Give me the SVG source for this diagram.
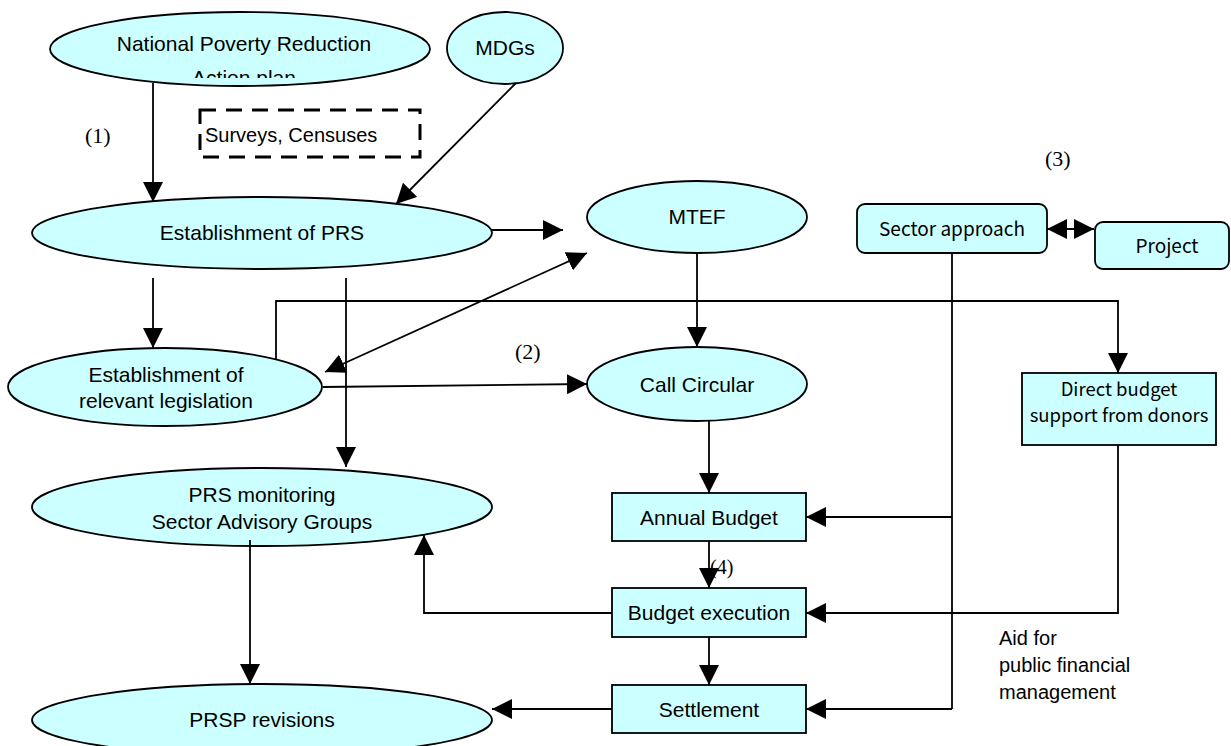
<svg xmlns="http://www.w3.org/2000/svg" width="1231" height="746" viewBox="0 0 1231 746">
  <style>
    .node { fill: #CCFFFF; stroke: #000; stroke-width: 1.8; }
    .lbl { font-family: "Liberation Sans", Arial, sans-serif; font-size: 21px; fill: #000; text-anchor: middle; }
    .jlbl { font-family: "Noto Sans CJK JP", "Noto Sans", sans-serif; font-size: 19px; fill: #000; text-anchor: middle; }
    .num { font-family: "Liberation Serif", "Times New Roman", serif; font-size: 22px; fill: #000; }
    .note { font-family: "Liberation Sans", Arial, sans-serif; font-size: 20px; fill: #000; }
    .wire { fill: none; stroke: #000; stroke-width: 1.8; }
  </style>
  <defs>
    <marker id="arrow" markerUnits="userSpaceOnUse" markerWidth="20" markerHeight="20" refX="20" refY="10" orient="auto-start-reverse">
      <path d="M0,0 L20,10 L0,20 Z" fill="#000"/>
    </marker>
    <clipPath id="clipAction">
      <rect x="0" y="0" width="600" height="78"/>
    </clipPath>
  </defs>

  <rect width="1231" height="746" fill="#fff"/>

  <!-- nodes -->
  <g id="npr">
    <ellipse class="node" cx="240" cy="49" rx="190" ry="37"/>
    <text class="lbl" x="244" y="51">National Poverty Reduction</text>
    <text class="lbl" x="244" y="85" clip-path="url(#clipAction)">Action plan</text>
  </g>
  <g id="mdgs">
    <ellipse class="node" cx="505" cy="48" rx="58" ry="36"/>
    <text class="lbl" x="505" y="55">MDGs</text>
  </g>
  <g id="surveys">
    <rect x="200" y="110" width="220" height="47" fill="none" stroke="#000" stroke-width="3" stroke-dasharray="16 10"/>
    <text class="note" x="205" y="142">Surveys, Censuses</text>
  </g>
  <g id="prs">
    <ellipse class="node" cx="262" cy="233" rx="230" ry="36"/>
    <text class="lbl" x="262" y="240">Establishment of PRS</text>
  </g>
  <g id="mtef">
    <ellipse class="node" cx="697" cy="217" rx="110" ry="36"/>
    <text class="lbl" x="697" y="224">MTEF</text>
  </g>
  <g id="sector">
    <rect class="node" x="857" y="204" width="190" height="49" rx="8"/>
    <text class="jlbl" x="952" y="236">Sector approach</text>
  </g>
  <g id="project">
    <rect class="node" x="1095" y="222" width="134" height="47" rx="8"/>
    <text class="jlbl" x="1167" y="253">Project</text>
  </g>
  <g id="legislation">
    <ellipse class="node" cx="165" cy="387" rx="157" ry="39"/>
    <text class="lbl" x="166" y="382">Establishment of</text>
    <text class="lbl" x="166" y="408">relevant legislation</text>
  </g>
  <g id="call">
    <ellipse class="node" cx="697" cy="384" rx="110" ry="37"/>
    <text class="lbl" x="697" y="392">Call Circular</text>
  </g>
  <g id="direct">
    <rect class="node" x="1022" y="373" width="194" height="72"/>
    <text class="jlbl" x="1119" y="396" style="font-size:18.5px">Direct budget</text>
    <text class="jlbl" x="1119" y="422" style="font-size:18.5px">support from donors</text>
  </g>
  <g id="monitoring">
    <ellipse class="node" cx="262" cy="507" rx="230" ry="39"/>
    <text class="lbl" x="262" y="502">PRS monitoring</text>
    <text class="lbl" x="262" y="529">Sector Advisory Groups</text>
  </g>
  <g id="annual">
    <rect class="node" x="612" y="493" width="194" height="48"/>
    <text class="lbl" x="709" y="525">Annual Budget</text>
  </g>
  <g id="execution">
    <rect class="node" x="612" y="588" width="194" height="49"/>
    <text class="lbl" x="709" y="620">Budget execution</text>
  </g>
  <g id="settlement">
    <rect class="node" x="612" y="685" width="194" height="48"/>
    <text class="lbl" x="709" y="717">Settlement</text>
  </g>
  <g id="revisions">
    <ellipse class="node" cx="262" cy="720" rx="230" ry="36"/>
    <text class="lbl" x="262" y="727">PRSP revisions</text>
  </g>

  <!-- connectors -->
  <g id="connectors">
    <line class="wire" x1="153" y1="83" x2="153" y2="202" marker-end="url(#arrow)"/>
    <line class="wire" x1="516" y1="83" x2="396" y2="204" marker-end="url(#arrow)"/>
    <line class="wire" x1="492" y1="230" x2="563" y2="230" marker-end="url(#arrow)"/>
    <line class="wire" x1="325" y1="372" x2="587" y2="253" marker-start="url(#arrow)" marker-end="url(#arrow)"/>
    <line class="wire" x1="1047" y1="229" x2="1094" y2="229" marker-start="url(#arrow)" marker-end="url(#arrow)"/>
    <line class="wire" x1="153" y1="278" x2="153" y2="348" marker-end="url(#arrow)"/>
    <line class="wire" x1="346" y1="278" x2="346" y2="467" marker-end="url(#arrow)"/>
    <polyline class="wire" points="276,359 276,301 1118,301 1118,373" marker-end="url(#arrow)"/>
    <line class="wire" x1="323" y1="387" x2="587" y2="384" marker-end="url(#arrow)"/>
    <line class="wire" x1="697" y1="253" x2="697" y2="347" marker-end="url(#arrow)"/>
    <line class="wire" x1="709" y1="421" x2="709" y2="493" marker-end="url(#arrow)"/>
    <line class="wire" x1="709" y1="541" x2="709" y2="588" marker-end="url(#arrow)"/>
    <line class="wire" x1="709" y1="637" x2="709" y2="685" marker-end="url(#arrow)"/>
    <line class="wire" x1="952" y1="253" x2="952" y2="709"/>
    <line class="wire" x1="952" y1="517" x2="806" y2="517" marker-end="url(#arrow)"/>
    <line class="wire" x1="952" y1="709" x2="806" y2="709" marker-end="url(#arrow)"/>
    <polyline class="wire" points="1118,445 1118,613 806,613" marker-end="url(#arrow)"/>
    <polyline class="wire" points="612,613 424,613 424,535" marker-end="url(#arrow)"/>
    <line class="wire" x1="250" y1="540" x2="250" y2="684" marker-end="url(#arrow)"/>
    <line class="wire" x1="612" y1="709" x2="492" y2="709" marker-end="url(#arrow)"/>
  </g>

  <!-- step numbers and notes -->
  <text class="num" x="85" y="143">(1)</text>
  <text class="num" x="515" y="359">(2)</text>
  <text class="num" x="1045" y="166">(3)</text>
  <text class="num" x="710" y="574" style="font-size:20px">(4)</text>
  <text class="note" x="999" y="645">Aid for</text>
  <text class="note" x="999" y="672">public financial</text>
  <text class="note" x="999" y="699">management</text>
</svg>
